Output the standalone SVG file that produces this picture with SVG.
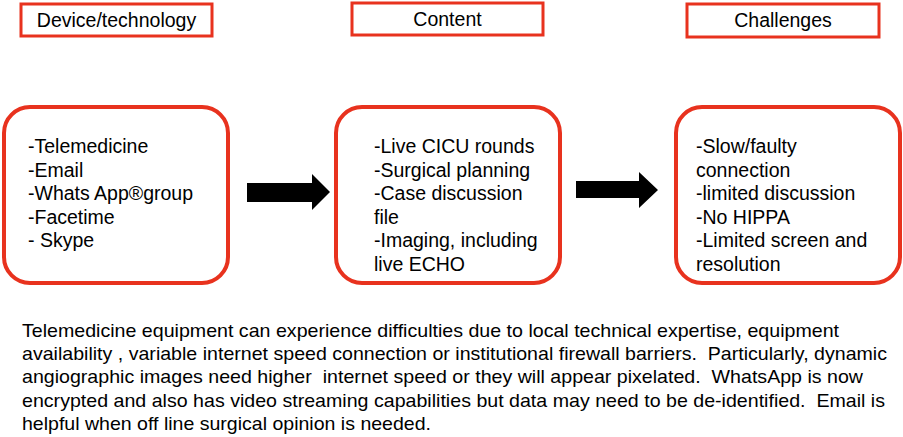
<svg xmlns="http://www.w3.org/2000/svg" width="903" height="437" viewBox="0 0 903 437">
<style>
.hdr{fill:#fff;stroke:#e8321e;stroke-width:3}
.box{fill:#fff;stroke:#e8321e;stroke-width:4}
.t{font-family:"Liberation Sans",Arial,sans-serif;fill:#000}
.h{font-size:19.5px;text-anchor:middle}
.b{font-size:19.5px}
.p{font-size:19px;white-space:pre}
.arr{fill:#000}
</style>
<rect width="903" height="437" fill="#fff"/>
<g id="hdr-device"><rect class="hdr" x="21" y="4" width="191" height="32"/><text class="t h" x="116.5" y="27">Device/technology</text></g>
<g id="hdr-content"><rect class="hdr" x="352" y="3" width="191" height="32"/><text class="t h" x="447.5" y="26">Content</text></g>
<g id="hdr-challenges"><rect class="hdr" x="687" y="4" width="192" height="33"/><text class="t h" x="783" y="27">Challenges</text></g>
<g id="box-device"><rect class="box" x="4" y="107" width="224" height="176" rx="26"/>
<text class="t b"><tspan x="28" y="153">-Telemedicine</tspan><tspan x="28" y="176.5">-Email</tspan><tspan x="28" y="200">-Whats App®group</tspan><tspan x="28" y="223.5">-Facetime</tspan><tspan x="28" y="247">- Skype</tspan></text></g>
<g id="box-content"><rect class="box" x="336" y="107" width="224" height="176" rx="26"/>
<text class="t b"><tspan x="374" y="153">-Live CICU rounds</tspan><tspan x="374" y="176.5">-Surgical planning</tspan><tspan x="374" y="200">-Case discussion</tspan><tspan x="374" y="223.5">file</tspan><tspan x="374" y="247">-Imaging, including</tspan><tspan x="374" y="270.5">live ECHO</tspan></text></g>
<g id="box-challenges"><rect class="box" x="676" y="107" width="224" height="176" rx="26"/>
<text class="t b"><tspan x="696" y="153">-Slow/faulty</tspan><tspan x="696" y="176.5">connection</tspan><tspan x="696" y="200">-limited discussion</tspan><tspan x="696" y="223.5">-No HIPPA</tspan><tspan x="696" y="247">-Limited screen and</tspan><tspan x="696" y="270.5">resolution</tspan></text></g>
<g id="connectors">
<polygon class="arr" points="247,183 312,183 312,174 330,192 312,210 312,202 247,202"/>
<polygon class="arr" points="576,181 639,181 639,172 658,190 639,208 639,198 576,198"/>
</g>
<g id="caption" xml:space="preserve">
<text class="t p" x="22" y="337" textLength="817" lengthAdjust="spacingAndGlyphs">Telemedicine equipment can experience difficulties due to local technical expertise, equipment</text>
<text class="t p" x="22" y="360" textLength="865" lengthAdjust="spacingAndGlyphs">availability , variable internet speed connection or institutional firewall barriers.  Particularly, dynamic</text>
<text class="t p" x="22" y="383" textLength="841" lengthAdjust="spacingAndGlyphs">angiographic images need higher  internet speed or they will appear pixelated.  WhatsApp is now</text>
<text class="t p" x="22" y="407" textLength="863" lengthAdjust="spacingAndGlyphs">encrypted and also has video streaming capabilities but data may need to be de-identified.  Email is</text>
<text class="t p" x="22" y="430" textLength="409" lengthAdjust="spacingAndGlyphs">helpful when off line surgical opinion is needed.</text>
</g>
</svg>
